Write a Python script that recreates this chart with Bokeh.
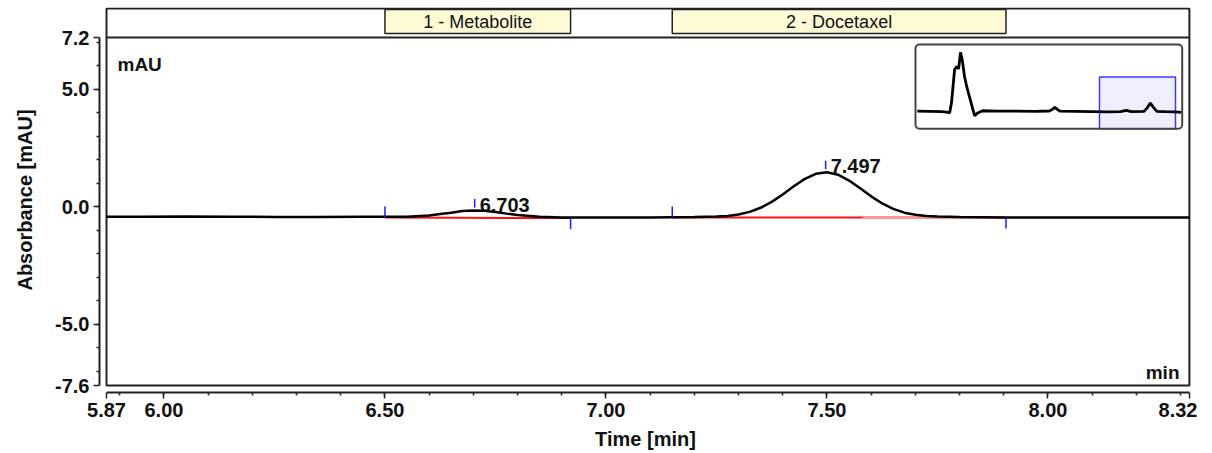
import numpy as np
from bokeh.plotting import figure
from bokeh.models import FixedTicker, NumeralTickFormatter, Range1d, BoxAnnotation
from bokeh.core.properties import value
from bokeh.embed import file_html
from bokeh.resources import INLINE

# ---------------- data ----------------
time_min = [5.87, 5.95, 6.05, 6.15, 6.25, 6.35, 6.45, 6.50, 6.55, 6.60, 6.625, 6.65,
            6.675, 6.70, 6.725, 6.75, 6.775, 6.80, 6.85, 6.90, 6.95, 7.00, 7.05, 7.10,
            7.15, 7.20, 7.25, 7.275, 7.30, 7.325, 7.35, 7.375, 7.40, 7.425, 7.45, 7.475,
            7.50, 7.525, 7.55, 7.575, 7.60, 7.625, 7.65, 7.675, 7.70, 7.725, 7.75, 7.80,
            7.85, 7.90, 7.95, 8.00, 8.10, 8.20, 8.32]
absorbance_mau = [-0.42, -0.42, -0.41, -0.42, -0.43, -0.43, -0.42, -0.42, -0.42, -0.37, -0.31, -0.25,
                  -0.18, -0.16, -0.17, -0.22, -0.29, -0.35, -0.42, -0.45, -0.46, -0.45, -0.45, -0.45,
                  -0.44, -0.437, -0.417, -0.387, -0.326, -0.217, -0.042, 0.209, 0.525, 0.872, 1.187, 1.405,
                  1.468, 1.364, 1.117, 0.789, 0.444, 0.142, -0.09, -0.249, -0.335, -0.39, -0.415, -0.432,
                  -0.44, -0.45, -0.45, -0.45, -0.45, -0.46, -0.46]

peak_names = ["1 - Metabolite", "2 - Docetaxel"]
peak_rt = [6.703, 7.497]
peak_apex = [-0.16, 1.47]
peak_start = [6.50, 7.15]
peak_end = [6.92, 7.905]
baseline_start = [-0.46, -0.45]
baseline_end = [-0.48, -0.46]
docetaxel_baseline_fade_from = 7.58

x_major_ticks = [5.87, 6.00, 6.50, 7.00, 7.50, 8.00, 8.32]
x_minor_ticks = [5.9, 6.0, 6.1, 6.2, 6.3, 6.4, 6.5, 6.6, 6.7, 6.8, 6.9, 7.0, 7.1,
                 7.2, 7.3, 7.4, 7.5, 7.6, 7.7, 7.8, 7.9, 8.0, 8.1, 8.2, 8.3]
y_major_ticks = [-7.6, -5.0, 0.0, 5.0, 7.2]
y_minor_ticks = [-7, -6, -5, -4, -3, -2, -1, 0, 1, 2, 3, 4, 5, 6, 7]

# overview (inset) trace of the whole run
overview_time = [0.00, 0.40, 0.80, 1.00, 1.04, 1.10, 1.14, 1.20, 1.27, 1.33, 1.39, 1.445,
                 1.52, 1.59, 1.66, 1.72, 1.79, 1.85, 1.94, 2.11, 2.60, 3.20, 3.80, 4.25,
                 4.35, 4.43, 4.51, 4.60, 5.10, 5.60, 6.10, 6.55, 6.73, 6.90, 7.30, 7.40,
                 7.51, 7.62, 7.72, 8.00, 8.30, 8.51]
overview_abs = [-0.35, -0.40, -0.45, -0.60, -0.75, 1.5, 4.4, 8.8, 9.5, 9.0, 12.6, 11.0,
                7.3, 5.1, 3.3, 1.8, 0.0, -1.35, -0.75, -0.25, -0.35, -0.35, -0.40, -0.30,
                0.05, 0.48, 0.05, -0.35, -0.40, -0.45, -0.50, -0.45, -0.18, -0.45, -0.40, 0.30,
                1.46, 0.40, -0.40, -0.45, -0.50, -0.60]
overview_x_window = (-0.06, 8.536)
overview_y_window = (-4.22, 14.34)

# ---------------- layout ----------------
X0, X1 = x_major_ticks[0], x_major_ticks[-1]
Y0, Y1 = y_major_ticks[0], y_major_ticks[-1]
PXX = 442.0
PXY = 348.0 / 14.8
PAD_L, PAD_R, PAD_T, PAD_B = 7, 2, 30, 7
FRAME_LEFT, FRAME_TOP = 100, 8  # page pixels
ORIGIN_X, ORIGIN_Y = 1, 1       # where the figure canvas starts on the page
fw = PAD_L + int(round((X1 - X0) * PXX)) + PAD_R
fh = PAD_T + int(round((Y1 - Y0) * PXY)) + PAD_B
x_start = X0 - PAD_L / PXX
x_end = x_start + fw / PXX
y_end = Y1 + PAD_T / PXY
y_start = y_end - fh / PXY


def px_x(px):
    return x_start + (px - FRAME_LEFT) / PXX


def px_y(py):
    return y_end - (py - FRAME_TOP) / PXY


FONT = "Liberation Sans"

p = figure(frame_width=fw, frame_height=fh,
           x_range=Range1d(x_start, x_end), y_range=Range1d(y_start, y_end),
           output_backend="svg", toolbar_location=None,
           min_border_left=FRAME_LEFT - ORIGIN_X, min_border_right=6,
           min_border_top=FRAME_TOP - ORIGIN_Y, min_border_bottom=40)
p.outline_line_color = None
p.grid.visible = False
p.background_fill_color = "white"
p.border_fill_color = "white"

for ax, ticks, minor, fmt, bounds in ((p.xaxis[0], x_major_ticks, x_minor_ticks, "0.00", (X0, X1)),
                                       (p.yaxis[0], y_major_ticks, y_minor_ticks, "0.0", (Y0, Y1))):
    ax.ticker = FixedTicker(ticks=ticks, minor_ticks=minor)
    ax.formatter = NumeralTickFormatter(format=fmt)
    ax.bounds = bounds
    ax.axis_line_color = "#222222"
    ax.axis_line_width = 2
    ax.major_tick_line_color = "#222222"
    ax.minor_tick_line_color = "#222222"
    ax.major_tick_line_width = 1.5
    ax.minor_tick_line_width = 1.5
    ax.major_tick_in = 0
    ax.major_tick_out = 6
    ax.minor_tick_in = 0
    ax.minor_tick_out = 3
    ax.major_label_text_font = FONT
    ax.major_label_text_font_size = "20px"
    ax.major_label_text_font_style = "bold"
    ax.major_label_text_color = "#111111"
    ax.axis_label_text_font = FONT
    ax.axis_label_text_font_size = "20px"
    ax.axis_label_text_font_style = "bold"
    ax.axis_label_text_color = "#111111"

p.xaxis.axis_label = "Time [min]"
p.yaxis.axis_label = "Absorbance [mAU]"
p.xaxis.major_label_standoff = 4
p.xaxis.axis_label_standoff = 8
p.yaxis.major_label_standoff = 4
p.yaxis.axis_label_standoff = 16

# chart frame with header band
p.quad(left=X0, right=X1, bottom=Y0, top=px_y(9), fill_color=None,
       line_color="#222222", line_width=2)
p.segment(x0=X0, x1=X1, y0=Y1, y1=Y1, line_color="#222222", line_width=2)

# peak name boxes in the header
mid = [(a + b) / 2 for a, b in zip(peak_start, peak_end)]
p.quad(left=peak_start, right=peak_end, top=px_y(10), bottom=px_y(34),
       fill_color="#fffbd6", line_color="#222222", line_width=1.5)
p.text(x=mid, y=[px_y(22)] * len(mid), text=peak_names, text_align="center",
       text_baseline="middle", text_font=value(FONT), text_font_size="18px",
       text_color="#111111")

# inset overview
ix0, ix1, iy0, iy1 = 916, 1182.7, 45, 129.3


def ov_x(t):
    t = np.asarray(t, dtype=float)
    return px_x(ix0 + (t - overview_x_window[0]) / (overview_x_window[1] - overview_x_window[0]) * (ix1 - ix0))


def ov_y(a):
    a = np.asarray(a, dtype=float)
    return px_y(iy1 - (a - overview_y_window[0]) / (overview_y_window[1] - overview_y_window[0]) * (iy1 - iy0))


p.quad(left=float(ov_x(X0)), right=float(ov_x(X1)),
       bottom=float(ov_y(max(Y0, overview_y_window[0]))), top=float(ov_y(Y1)),
       fill_color="#eeeefc", line_color="#3a3aff", line_width=1.5)
p.line(ov_x(overview_time), ov_y(overview_abs), line_color="black", line_width=2.8)
p.add_layout(BoxAnnotation(left=px_x(ix0), right=px_x(ix1), top=px_y(iy0), bottom=px_y(iy1),
                           fill_alpha=0, line_color="#444444", line_alpha=1.0, line_width=2,
                           border_radius=4))

# integration baselines
p.segment(x0=peak_start, x1=peak_end, y0=baseline_start, y1=baseline_end,
          line_color="#ff1010", line_width=2)
fade_y = baseline_start[1] + (baseline_end[1] - baseline_start[1]) * (
    (docetaxel_baseline_fade_from - peak_start[1]) / (peak_end[1] - peak_start[1]))
p.segment(x0=[docetaxel_baseline_fade_from], x1=[peak_end[1]], y0=[fade_y], y1=[baseline_end[1]],
          line_color="#ff9a9a", line_width=2)

# chromatogram trace
p.line(time_min, absorbance_mau, line_color="black", line_width=2.5)

# peak start / end markers
tick_h = 11 / PXY
p.segment(x0=peak_start, x1=peak_start, y0=baseline_start,
          y1=[b + tick_h for b in baseline_start], line_color="#1a1aff", line_width=1.5)
p.segment(x0=peak_end, x1=peak_end, y0=baseline_end,
          y1=[b - tick_h for b in baseline_end], line_color="#1a1aff", line_width=1.5)
# apex markers
p.segment(x0=peak_rt, x1=peak_rt, y0=[a + 3 / PXY for a in peak_apex],
          y1=[a + 11.5 / PXY for a in peak_apex], line_color="#1a1aff", line_width=1.5)
p.text(x=peak_rt, y=[a + 6 / PXY for a in peak_apex], text=[f"{r:.3f}" for r in peak_rt],
       x_offset=5, text_align="left", text_baseline="alphabetic",
       text_font=value(FONT), text_font_size="20px", text_font_style="bold",
       text_color="#111111")

# unit labels inside frame
p.text(x=[px_x(118)], y=[px_y(65)], text=["mAU"], text_align="left",
       text_baseline="alphabetic", text_font=value(FONT), text_font_size="19px",
       text_font_style="bold", text_color="#111111")
p.text(x=[px_x(1180)], y=[px_y(373)], text=["min"], text_align="right",
       text_baseline="alphabetic", text_font=value(FONT), text_font_size="19px",
       text_font_style="bold", text_color="#111111")

open("out.html", "w").write(file_html(p, INLINE))
